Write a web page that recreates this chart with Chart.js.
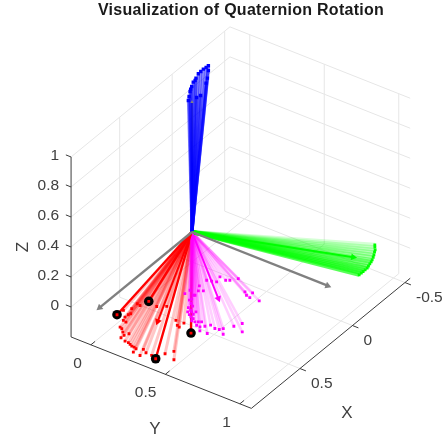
<!DOCTYPE html>
<html>
<head>
<meta charset="utf-8">
<style>html,body{margin:0;padding:0;background:#fff}canvas{display:block}</style>
<script src="https://cdn.jsdelivr.net/npm/chart.js@4/dist/chart.umd.js"></script>
</head>
<body>
<canvas id="c" width="448" height="438"></canvas>
<script>
// ---- data (3-D values) ----
const titleText = 'Visualization of Quaternion Rotation';
const xTicks = [-0.5, 0, 0.5];
const yTicks = [0, 0.5, 1];
const zTicks = [0, 0.2, 0.4, 0.6, 0.8, 1];
const xLimits = [-0.55, 0.963];
const yLimits = [-0.133, 1.077];
const zLimits = [-0.2, 1];

const redX = [.553,.502,.497,.458,.427,.596,.592,.611,.640,.671,.676,.733,.741,.764,.814,.786,.758,.828,.830,.838,.846,.847,.854,.888,.894,.836,.854,.857,.803,.757,.822,.508,.543,.550,.504];
const redY = [-.015,.005,-.017,.086,.131,.009,-.043,.003,.001,.012,.033,.034,.051,.074,.097,.098,.111,.134,.158,.175,.192,.208,.226,.232,.281,.263,.293,.333,.385,.412,.458,.250,.284,.302,.301];
const redZ = [-.2,-.2,-.2,-.2,-.2,-.2,-.2,-.2,-.2,-.2,-.2,-.2,-.2,-.2,-.2,-.2,-.2,-.2,-.2,-.2,-.2,-.2,-.2,-.2,-.2,-.2,-.2,-.2,-.2,-.2,-.2,-.2,-.2,-.2,-.2];

const markerX = [.646,.443,.871,.560];
const markerY = [-.048,.022,.370,.388];
const markerZ = [-.2,-.2,-.2,-.2];

const magentaX = [.387,.345,.282,.309,.324,.374,.410,.369,.446,.486,.510,.522,.496,.551,.557,.580,.578,.567,.557,.599,.601,.581,.633,.631,.555,.568,.562,.542,.587,.491,.444,.509,.188,.209,.217,.172,.214,.104,.143,.156,.148,.197,.207,.215,.425,.462,.500,.523,.538,.563];
const magentaY = [.225,.230,.248,.294,.271,.272,.287,.280,.308,.318,.357,.339,.376,.381,.401,.407,.427,.442,.457,.453,.477,.496,.499,.547,.516,.554,.579,.592,.623,.627,.650,.696,.488,.513,.541,.528,.602,.384,.355,.336,.292,.304,.278,.250,.282,.330,.343,.377,.361,.397];
const magentaZ = [-.1,-.1,-.1,-.1,-.1,-.1,-.1,-.1,-.1,-.1,-.1,-.1,-.1,-.1,-.1,-.1,-.1,-.1,-.1,-.1,-.1,-.1,-.1,-.1,-.1,-.1,-.1,-.1,-.1,-.1,-.1,-.1,-.1,-.1,-.1,-.1,-.1,-.1,-.1,-.1,-.1,-.1,-.1,-.1,-.1,-.1,-.1,-.1,-.1,-.1];

const greenX = [-.349,-.331,-.311,-.291,-.268,-.247,-.223,-.205,-.185,-.162,-.143,-.123,-.104,-.085,-.065];
const greenY = [.981,.994,1.010,1.020,1.032,1.042,1.052,1.058,1.063,1.070,1.075,1.075,1.075,1.076,1.076];
const greenZ = [.1,.1,.1,.1,.1,.1,.1,.1,.1,.1,.1,.1,.1,.1,.1];

const blueX = [-.366,-.346,-.324,-.298,-.272,-.231,-.210,-.191,-.152,-.128,-.108,-.066,-.032,-.081,-.109,-.223,-.266,-.329];
const blueY = [-.148,-.149,-.152,-.151,-.149,-.136,-.127,-.126,-.109,-.099,-.089,-.066,-.047,-.026,-.019,-.063,-.084,-.122];
const blueZ = [.84,.84,.84,.84,.84,.84,.84,.84,.84,.84,.84,.84,.84,.84,.84,.84,.84,.84];

// mean-rotation arrows (red, magenta, green)
const arrowX = [.572,.322,-.185];
const arrowY = [.173,.404,.951];
const arrowZ = [-.2,-.1,.1];
// reference frame arrows
const frameX = [.88,0,0];
const frameY = [0,.91,0];
const frameZ = [0,0,.867];

// ---- view: how 3-D values land on the flat drawing plane ----
function view(x, y, z) {
  return { x: 192 - 105 * x + 149 * y, y: 232 + 86 * x + 59 * y - 150 * z };
}
const TOP = 22.2, LEFT = 34;

const GRID = '#e6e6e6', AXIS = '#3c3c3c', TEXT = '#404040';
const RED = '#ff0000', MAG = '#ff00ff', GRN = '#00ff00', BLU = '#0000ff', GRY = '#808080';
const datasets = [];  // bottom layer first

function seg(a, b, color, width) {
  datasets.push({ data: [view(a[0],a[1],a[2]), view(b[0],b[1],b[2])], showLine: true,
    borderColor: color, borderWidth: width, pointRadius: 0, borderCapStyle: 'butt', fill: false });
}
function fan(xs, ys, zs, rgb, alphaOf, width) {
  xs.forEach((_, i) => seg([0,0,0], [xs[i],ys[i],zs[i]], `rgba(${rgb},${alphaOf(i)})`, width));
}
function dots(xs, ys, zs, color, radius) {
  datasets.push({ data: xs.map((_, i) => view(xs[i],ys[i],zs[i])), showLine: false,
    pointStyle: 'rect', pointRadius: radius, pointBackgroundColor: color, pointBorderWidth: 0 });
}
function head(x, y, z, color, r) {
  const p = view(x,y,z), o = view(0,0,0);
  const rot = Math.atan2(p.x - o.x, -(p.y - o.y)) * 180 / Math.PI;
  datasets.push({ data: [p], showLine: false, pointStyle: 'triangle', pointRadius: r,
    pointRotation: rot, pointBackgroundColor: color, pointBorderWidth: 0 });
}

// grid
for (const x of xTicks) {
  seg([x,yLimits[0],zLimits[0]],[x,yLimits[1],zLimits[0]],GRID,1);
  seg([x,yLimits[0],zLimits[0]],[x,yLimits[0],zLimits[1]],GRID,1);
}
for (const y of yTicks) {
  seg([xLimits[0],y,zLimits[0]],[xLimits[1],y,zLimits[0]],GRID,1);
  seg([xLimits[0],y,zLimits[0]],[xLimits[0],y,zLimits[1]],GRID,1);
}
for (const z of zTicks) {
  seg([xLimits[1],yLimits[0],z],[xLimits[0],yLimits[0],z],GRID,1);
  seg([xLimits[0],yLimits[0],z],[xLimits[0],yLimits[1],z],GRID,1);
}
// axes
const A = [xLimits[1],yLimits[0],zLimits[0]], B = [xLimits[1],yLimits[1],zLimits[0]], C = [xLimits[0],yLimits[1],zLimits[0]];
seg(A,[xLimits[1],yLimits[0],zLimits[1]],AXIS,1);
seg(A,B,AXIS,1);
seg(B,C,AXIS,1);
for (const z of zTicks) seg([xLimits[1],yLimits[0],z],[xLimits[1],yLimits[0]-0.035,z],AXIS,1);
for (const y of yTicks) seg([xLimits[1],y,zLimits[0]],[xLimits[1]-0.04,y,zLimits[0]],AXIS,1);
for (const x of xTicks) seg([x,yLimits[1],zLimits[0]],[x,yLimits[1]+0.04,zLimits[0]],AXIS,1);

// z reference shaft sits under the blue fan
seg([0,0,0],[frameX[2],frameY[2],frameZ[2]],GRY,2);

const n = (i, len) => i / (len - 1);
fan(redX, redY, redZ, '255,0,0', () => 0.22, 3);
markerX.forEach((_, i) => seg([0,0,0],[markerX[i],markerY[i],markerZ[i]],RED,2.4));
fan(magentaX, magentaY, magentaZ, '255,0,255', () => 0.19, 2.6);
fan(greenX, greenY, greenZ, '0,255,0', i => 0.16 + 0.5 * n(i, greenX.length), 4);
fan(blueX, blueY, blueZ, '0,0,255', () => 0.48, 3);

// mean arrows
const arrowColor = [RED, MAG, GRN];
arrowX.forEach((_, i) => {
  seg([0,0,0],[arrowX[i],arrowY[i],arrowZ[i]],arrowColor[i],2);
  head(arrowX[i],arrowY[i],arrowZ[i],arrowColor[i],4);
});
// reference frame
seg([0,0,0],[frameX[0],frameY[0],frameZ[0]],GRY,2.4);
seg([0,0,0],[frameX[1],frameY[1],frameZ[1]],GRY,2.4);
head(frameX[0],frameY[0],frameZ[0],GRY,4);
head(frameX[1],frameY[1],frameZ[1],GRY,4);
head(frameX[2],frameY[2],frameZ[2],GRY,2);

dots(magentaX, magentaY, magentaZ, MAG, 2);
dots(redX, redY, redZ, RED, 2);
dots(greenX, greenY, greenZ, GRN, 2);
dots(blueX, blueY, blueZ, BLU, 2.4);
datasets.push({ data: markerX.map((_, i) => view(markerX[i],markerY[i],markerZ[i])), showLine: false,
  pointStyle: 'circle', pointRadius: 4.8, pointBackgroundColor: '#000', pointBorderWidth: 0 });
dots(markerX, markerY, markerZ, RED, 2);

datasets.reverse(); // Chart.js paints the first dataset last

const tickLabels = {
  id: 'tickLabels',
  beforeDraw(chart) { chart.ctx.letterSpacing = '0.28px'; },
  afterDraw(chart) {
    const c = chart.ctx, sx = chart.scales.x, sy = chart.scales.y;
    c.letterSpacing = '0px';
    const put = (p3, dx, dy, t, align) => {
      const p = view(p3[0],p3[1],p3[2]);
      c.textAlign = align; c.fillText(t, sx.getPixelForValue(p.x) + dx, sy.getPixelForValue(p.y) + dy);
    };
    c.save();
    c.fillStyle = TEXT; c.textBaseline = 'middle';
    c.font = '15.5px "Liberation Sans", Arial, sans-serif';
    for (const z of zTicks) put([xLimits[1],yLimits[0],z], -12, -1, String(z), 'right');
    for (const y of yTicks) put([xLimits[1],y,zLimits[0]], -9, 18.5, String(y), 'right');
    for (const x of xTicks) put([x,yLimits[1],zLimits[0]], 11, 15.5, String(x), 'left');
    c.font = '17px "Liberation Sans", Arial, sans-serif';
    c.textAlign = 'center';
    c.fillText('X', 347, 413);
    c.fillText('Y', 155, 429);
    c.translate(23, 247); c.rotate(-Math.PI / 2);
    c.fillText('Z', 0, 0);
    c.restore();
  }
};

new Chart(document.getElementById('c'), {
  type: 'scatter',
  data: { datasets },
  plugins: [tickLabels],
  options: {
    responsive: false, animation: false, events: [],
    layout: { autoPadding: false, padding: { left: LEFT, top: 0, right: 0, bottom: 0 } },
    scales: {
      x: { type: 'linear', display: false, min: LEFT, max: 448 },
      y: { type: 'linear', display: false, min: TOP, max: 438, reverse: true }
    },
    plugins: {
      legend: { display: false }, tooltip: { enabled: false },
      title: { display: true, text: titleText, color: '#1a1a1a',
        font: { family: '"Liberation Sans", Arial, sans-serif', size: 16, weight: 'bold', lineHeight: 1.2 },
        padding: { top: 1, bottom: 2 } }
    }
  }
});
</script>
</body>
</html>
